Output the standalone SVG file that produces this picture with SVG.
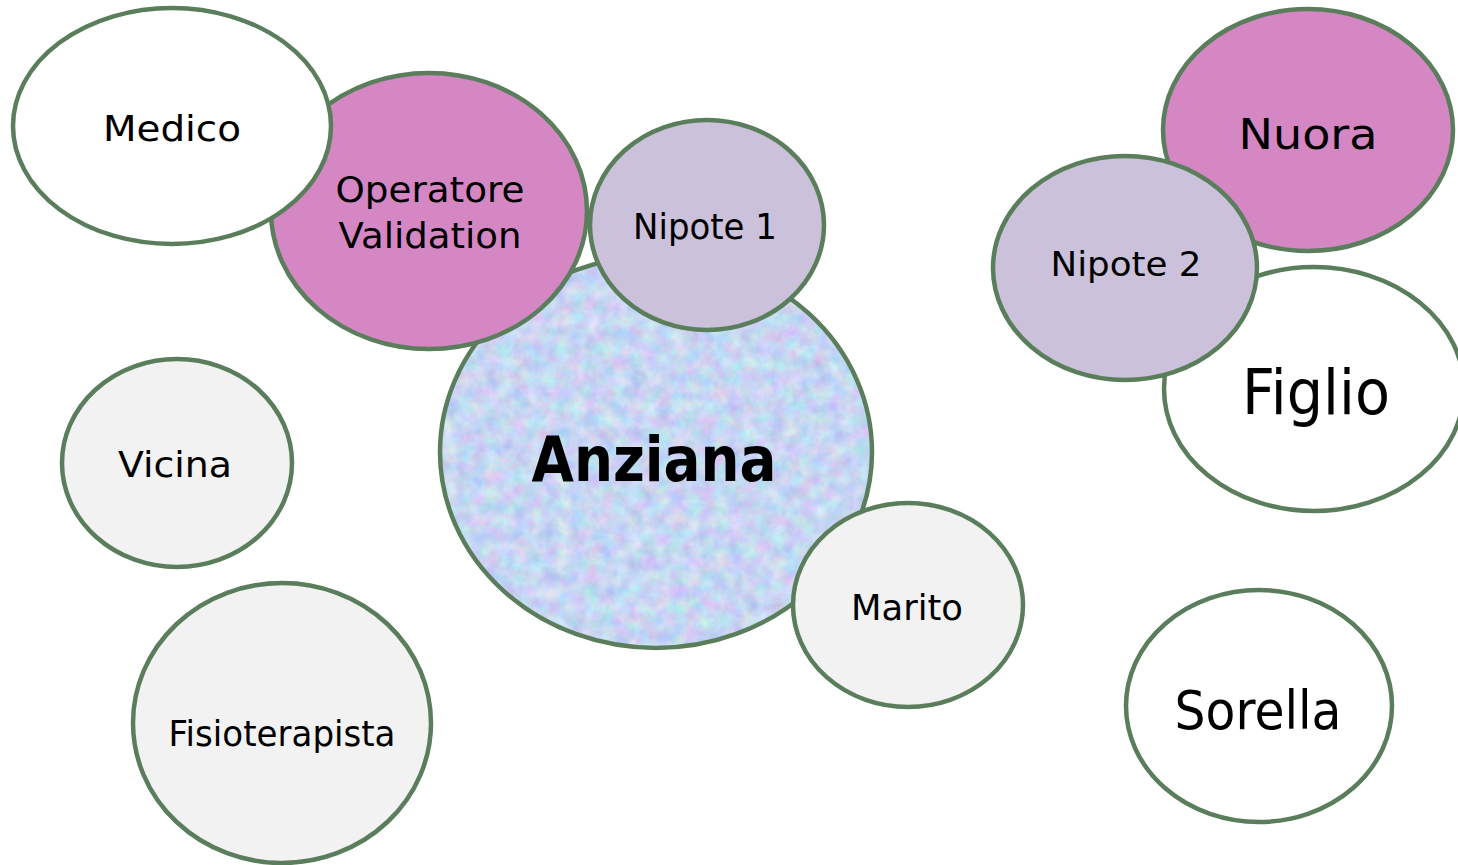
<svg xmlns="http://www.w3.org/2000/svg" width="1458" height="865" viewBox="0 0 1458 865">
  <style>
    .n { stroke: #5A7E5B; stroke-width: 4.5; }
    .white { fill: #FFFFFF; }
    .pink { fill: #D487C3; }
    .lav { fill: #CBC1DA; }
    .grey { fill: #F2F2F2; }
    .t { font-family: "DejaVu Sans", "Liberation Sans", sans-serif; fill: #000000; text-anchor: middle; }
    .b { font-weight: bold; }
  </style>
  <defs>
    <filter id="mottle" x="0" y="0" width="1" height="1" color-interpolation-filters="sRGB">
      <feTurbulence type="fractalNoise" baseFrequency="0.07" numOctaves="4" seed="7" result="noise"/>
      <feColorMatrix in="noise" type="matrix" values="0.32 0 0 0 0.62  0 0.26 0 0 0.71  0 0 0.14 0 0.88  0 0 0 0 1" result="col"/>
      <feComposite in="col" in2="SourceGraphic" operator="in"/>
    </filter>
  </defs>
  <rect width="1458" height="865" fill="#FFFFFF"/>
  <g id="connectors"></g>

  <g id="anziana">
    <ellipse cx="656" cy="452" rx="216" ry="196" fill="#C6D4F4"/>
    <ellipse cx="656" cy="452" rx="216" ry="196" fill="#C6D4F4" filter="url(#mottle)"/>
    <ellipse class="n" cx="656" cy="452" rx="216" ry="196" fill="none"/>
    <text class="t b" x="654" y="481" font-size="62" textLength="245" lengthAdjust="spacingAndGlyphs">Anziana</text>
  </g>

  <g id="operatore-validation">
    <ellipse class="n pink" cx="429" cy="211" rx="158" ry="138"/>
    <text class="t" x="430" y="202" font-size="36" textLength="189" lengthAdjust="spacingAndGlyphs">Operatore</text>
    <text class="t" x="430" y="248" font-size="36" textLength="183" lengthAdjust="spacingAndGlyphs">Validation</text>
  </g>

  <g id="medico">
    <ellipse class="n white" cx="172" cy="126" rx="159" ry="118"/>
    <text class="t" x="172" y="141" font-size="36" textLength="138" lengthAdjust="spacingAndGlyphs">Medico</text>
  </g>

  <g id="nipote1">
    <ellipse class="n lav" cx="707" cy="225" rx="117" ry="105"/>
    <text class="t" x="705" y="239" font-size="36" textLength="144" lengthAdjust="spacingAndGlyphs">Nipote 1</text>
  </g>

  <g id="marito">
    <ellipse class="n grey" cx="908" cy="605" rx="115" ry="102"/>
    <text class="t" x="907" y="620" font-size="36" textLength="112" lengthAdjust="spacingAndGlyphs">Marito</text>
  </g>

  <g id="vicina">
    <ellipse class="n grey" cx="177" cy="463" rx="115" ry="104"/>
    <text class="t" x="175" y="477" font-size="36" textLength="114" lengthAdjust="spacingAndGlyphs">Vicina</text>
  </g>

  <g id="fisioterapista">
    <ellipse class="n grey" cx="282" cy="723" rx="149" ry="140"/>
    <text class="t" x="282" y="746" font-size="36" textLength="227" lengthAdjust="spacingAndGlyphs">Fisioterapista</text>
  </g>

  <g id="nuora">
    <ellipse class="n pink" cx="1308" cy="130" rx="145" ry="121"/>
    <text class="t" x="1308" y="149" font-size="43" textLength="139" lengthAdjust="spacingAndGlyphs">Nuora</text>
  </g>

  <g id="figlio">
    <ellipse class="n white" cx="1314" cy="389" rx="150" ry="122"/>
    <text class="t" x="1316" y="414" font-size="63" textLength="148" lengthAdjust="spacingAndGlyphs">Figlio</text>
  </g>

  <g id="nipote2">
    <ellipse class="n lav" cx="1125" cy="268" rx="132" ry="112"/>
    <text class="t" x="1126" y="276" font-size="34" textLength="151" lengthAdjust="spacingAndGlyphs">Nipote 2</text>
  </g>

  <g id="sorella">
    <ellipse class="n white" cx="1259" cy="706" rx="133" ry="116"/>
    <text class="t" x="1258" y="729" font-size="54" textLength="167" lengthAdjust="spacingAndGlyphs">Sorella</text>
  </g>
</svg>
